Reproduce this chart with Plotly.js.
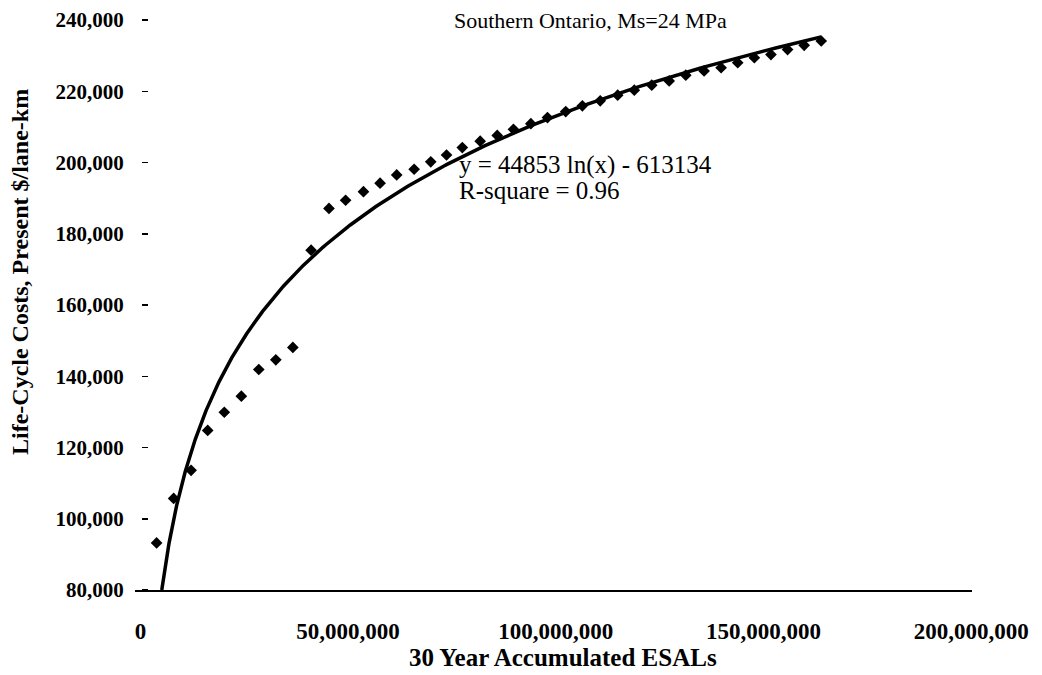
<!DOCTYPE html>
<html>
<head>
<meta charset="utf-8">
<script src="https://cdn.plot.ly/plotly-3.0.1.min.js"></script>
<style>html,body{margin:0;padding:0;background:#fff;}#chart{width:1042px;height:675px;}</style>
</head>
<body>
<div id="chart"></div>
<script>
// Observed data points: 30-year accumulated ESALs vs life-cycle cost
const esals = [3.9e6, 8.0e6, 12.2e6, 16.2e6, 20.2e6, 24.3e6, 28.5e6, 32.6e6, 36.7e6, 41.1e6,
  45.4e6, 49.4e6, 53.7e6, 57.7e6, 61.7e6, 65.9e6, 69.9e6, 73.7e6, 77.5e6, 81.8e6,
  85.9e6, 89.8e6, 94.0e6, 98.0e6, 102.4e6, 106.4e6, 110.7e6, 114.9e6, 118.9e6, 123.1e6,
  127.3e6, 131.3e6, 135.7e6, 139.8e6, 143.8e6, 147.8e6, 151.8e6, 155.8e6, 159.8e6, 163.9e6];
const costs = [93200, 105700, 113600, 124800, 129900, 134400, 141900, 144600, 148100, 175400,
  187100, 189400, 191800, 194200, 196500, 198100, 200200, 202100, 204200, 206000,
  207600, 209300, 210900, 212600, 214300, 215900, 217300, 218900, 220300, 221700,
  222900, 224500, 225700, 226600, 228000, 229400, 230300, 231700, 232900, 234100];

// Logarithmic trendline shown on the chart: y = 44853 ln(x) - 613134
const trendA = 44853;
const trendB = -613134;
const trendStartX = Math.exp((80000 - trendB) / trendA);
const trendEndX = esals[esals.length - 1];

const titleText = "Southern Ontario, Ms=24 MPa";
const eqLine1 = "y = 44853 ln(x) - 613134";
const eqLine2 = "R-square = 0.96";
const xTitle = "30 Year Accumulated ESALs";
const yTitle = "Life-Cycle Costs, Present $/lane-km";

const trendX = [], trendY = [];
const nSteps = 300;
for (let i = 0; i <= nSteps; i++) {
  const x = trendStartX * Math.pow(trendEndX / trendStartX, i / nSteps);
  trendX.push(x);
  trendY.push(trendA * Math.log(x) + trendB);
}

const serif = "Liberation Serif";
const px2x = p => (p - 135) / 837;
const px2y = p => (590 - p) / 570;

const data = [
  {x: esals, y: costs, type: "scatter", mode: "markers",
   marker: {symbol: "diamond", size: 9, color: "#000"}, cliponaxis: false},
  {x: trendX, y: trendY, type: "scatter", mode: "lines",
   line: {color: "#000", width: 3.5}}
];

const layout = {
  width: 1042, height: 675,
  margin: {l: 135, r: 70, t: 20, b: 85},
  paper_bgcolor: "#fff", plot_bgcolor: "#fff",
  showlegend: false,
  font: {family: serif, color: "#000"},
  xaxis: {
    range: [-1.3e6, 200.2e6], tick0: 0, dtick: 5e7, tickformat: ",d",
    showgrid: false, zeroline: false, showline: true, linecolor: "#000", linewidth: 1.5,
    ticks: "", ticklabelstandoff: 20,
    tickfont: {family: serif, size: 23, color: "#000", weight: "bold"}
  },
  yaxis: {
    range: [80000, 240000], dtick: 20000, tickformat: ",d",
    anchor: "free", position: 0.0155,
    showgrid: false, zeroline: false, showline: false,
    ticks: "outside", ticklen: 6, tickwidth: 1.5, tickcolor: "#000",
    ticklabelstandoff: 14,
    tickfont: {family: serif, size: 21, color: "#000", weight: "bold"}
  },
  annotations: [
    {text: titleText, xref: "paper", yref: "paper", x: px2x(590), y: px2y(20),
     xanchor: "center", yanchor: "middle", showarrow: false,
     font: {family: serif, size: 22, color: "#000"}},
    {text: eqLine1, xref: "paper", yref: "paper", x: px2x(457), y: px2y(165),
     xanchor: "left", yanchor: "middle", align: "left", showarrow: false,
     font: {family: serif, size: 25, color: "#000"}},
    {text: eqLine2, xref: "paper", yref: "paper", x: px2x(457), y: px2y(190),
     xanchor: "left", yanchor: "middle", align: "left", showarrow: false,
     font: {family: serif, size: 25, color: "#000"}},
    {text: "<b>" + xTitle + "</b>", xref: "paper", yref: "paper",
     x: px2x(563), y: px2y(657),
     xanchor: "center", yanchor: "middle", showarrow: false,
     font: {family: serif, size: 25, color: "#000"}},
    {text: "<b>" + yTitle + "</b>", xref: "paper", yref: "paper", textangle: -90,
     x: px2x(20), y: px2y(272),
     xanchor: "center", yanchor: "middle", showarrow: false,
     font: {family: serif, size: 24, color: "#000"}}
  ]
};

Plotly.newPlot("chart", data, layout, {displayModeBar: false, staticPlot: true});
</script>
</body>
</html>
